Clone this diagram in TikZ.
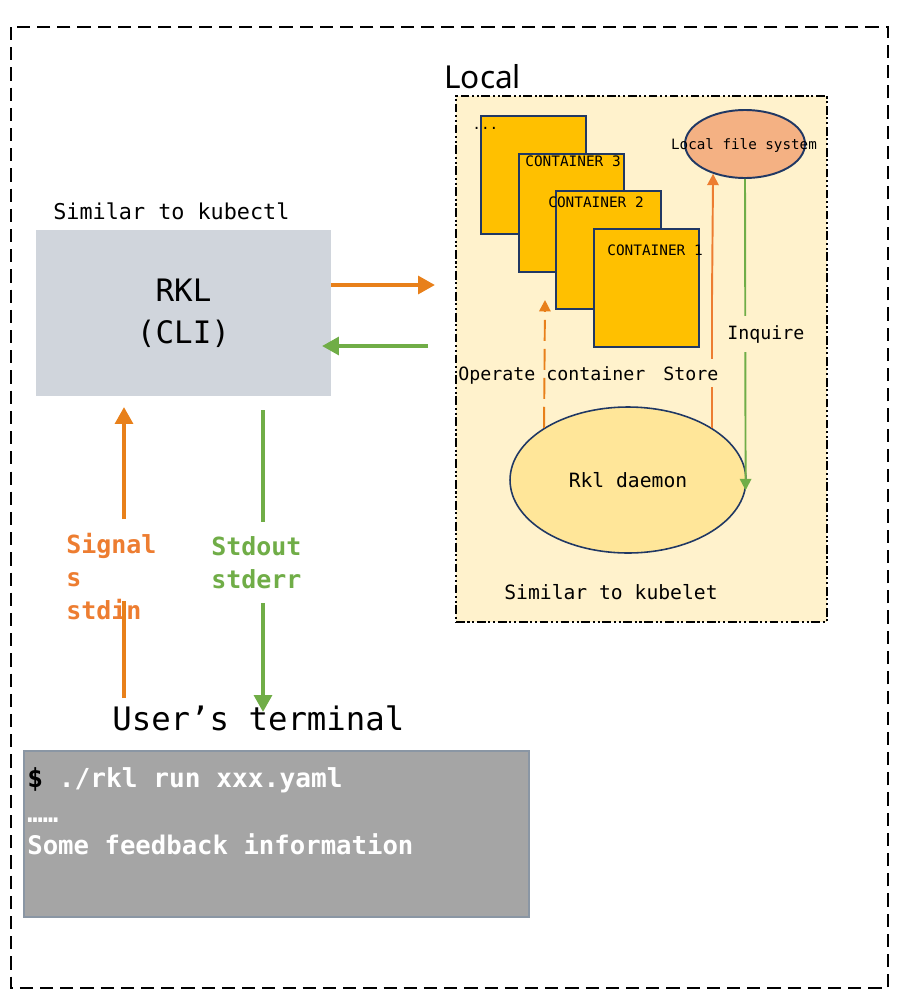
\documentclass[tikz,border=0pt]{standalone}
\usepackage{fontspec}
\setmonofont{DejaVu Sans Mono}
\newfontfamily\localfont{Noto Sans}
\usepackage{tikz}
\usetikzlibrary{arrows.meta, shapes.geometric}

\definecolor{rklorange}{HTML}{E8801A}
\definecolor{txtorange}{HTML}{ED7D31}
\definecolor{rklgreen}{HTML}{70AD47}
\definecolor{localbg}{HTML}{FFF2CC}
\definecolor{ctrfill}{HTML}{FFC000}
\definecolor{navy}{HTML}{203864}
\definecolor{fsfill}{HTML}{F4B183}
\definecolor{daemonfill}{HTML}{FFE699}
\definecolor{clifill}{HTML}{D0D5DC}
\definecolor{termfill}{HTML}{A5A5A5}
\definecolor{termedge}{HTML}{8A96A4}

\begin{document}
\begin{tikzpicture}[x=0.02cm, y=-0.02cm,
  mono/.style={font=\ttfamily\fontsize{#1}{#1}\selectfont, inner sep=0pt},
  monobold/.style={font=\ttfamily\bfseries\fontsize{#1}{18.7}\selectfont, inner sep=0pt},
  ctr/.style={rectangle, draw=navy, fill=ctrfill, line width=1.1pt, minimum width=2.1cm, minimum height=2.36cm},
  bigarrow/.style={line width=2.3pt, -{Triangle[length=9.6pt, width=10pt]}},
  smallarrow/.style={line width=1.1pt, -{Triangle[length=6.5pt, width=6.5pt]}}]
            \useasboundingbox (0,0) rectangle (910,1008);
            \draw[line width=1.1pt, dash pattern=on 7.5pt off 4pt] (11,27) rectangle (888,988);

            % local machine
            \node[rectangle, fill=localbg, draw=black, line width=1.1pt, dash pattern=on 5pt off 1.5pt on 1.2pt off 1.5pt on 1.2pt off 1.5pt, minimum width=7.42cm, minimum height=10.52cm] at (641.5,359) (local) {};
            \node[anchor=base west, inner sep=0pt, font=\localfont\fontsize{18}{18}\selectfont] at (444,88) (localtitle) {Local};

            \node[ctr] at (533.5,175) (ctrmore) {};
            \node[ctr] at (571.5,213) (ctr3) {};
            \node[ctr] at (608.5,250) (ctr2) {};
            \node[ctr] at (646.5,288) (ctr1) {};
            \node[mono=8.2, anchor=base west] at (472,129) (moretxt) {...};
            \node[mono=8.2, anchor=base west] at (525,166) (ctr3txt) {CONTAINER 3};
            \node[mono=8.2, anchor=base west] at (548,207) (ctr2txt) {CONTAINER 2};
            \node[mono=8.2, anchor=base west] at (607,255) (ctr1txt) {CONTAINER 1};

            \node[ellipse, draw=navy, fill=fsfill, line width=1.1pt, inner sep=0pt, minimum width=2.4cm, minimum height=1.36cm] at (745,144) (lfs) {};
            \node[mono=8.1, anchor=base] at (744,149) (lfstxt) {Local file system};

            \node[ellipse, draw=navy, fill=daemonfill, line width=0.9pt, inner sep=0pt, minimum width=4.72cm, minimum height=2.92cm] at (628,480) (daemon) {};
            \node[mono=11.2, anchor=base] at (628,487) (daemontxt) {Rkl daemon};
            \node[mono=11.2, anchor=base] at (611,599) (kubelet) {Similar to kubelet};

            \coordinate (optop) at (545,300);
            \draw[smallarrow, rklorange, dash pattern=on 12pt off 4.5pt] (daemon.north west) -- (optop);
            \draw[smallarrow, txtorange] (daemon.north east) -- ++(0,-128) -- (lfs.223);
            \draw[smallarrow, rklgreen] (lfs.south) -- (daemon.-5);
            \node[mono=10.4, anchor=base west] at (458,380) (operate) {Operate container};
            \node[mono=10.4, anchor=base west, fill=localbg, inner ysep=4pt] at (663,380) (store) {Store};
            \node[mono=10.4, anchor=base west, fill=localbg, inner ysep=5pt] at (727,339) (inquire) {Inquire};

            % cli
            \node[rectangle, fill=clifill, minimum width=5.9cm, minimum height=3.32cm, align=center, font=\ttfamily\fontsize{17.6}{23.8}\selectfont] at (183.5,313) (rkl) {RKL\\(CLI)};
            \node[mono=12.4, anchor=base west] at (53,219) (kubectl) {Similar to kubectl};

            \coordinate (req) at (435,285);
            \coordinate (resp) at (428,346);
            \draw[bigarrow, rklorange] (rkl.east |- req) -- (req);
            \draw[bigarrow, rklgreen, shorten >=-5.3pt] (resp) -- (rkl.east |- resp);

            % terminal
            \node[rectangle, fill=termfill, draw=termedge, line width=1.1pt, minimum width=10.1cm, minimum height=3.32cm] at (276.5,834) (term) {};
            \node[mono=18.4, anchor=base west] at (112,730) (termtitle) {User’s terminal};
            \node[monobold=14.9, anchor=base west] at (27,787) (cmd) {\$ \textcolor{white}{./rkl run xxx.yaml}};
            \node[monobold=14.6, anchor=base west, text=white] at (27,822) (dots) {……};
            \node[monobold=14.6, anchor=base west, text=white] at (27,854) (feedback) {Some feedback information};

            \node[monobold=14.2, anchor=north west, align=left, text=txtorange] at (66,533) (siglabel) {Signal\\s\\stdin};
            \node[monobold=14.2, anchor=north west, align=left, text=rklgreen] at (211,536) (stdlabel) {Stdout\\stderr};

            \coordinate (sig0) at (124,698);
            \coordinate (sig1) at (124,601);
            \coordinate (sig2) at (124,519);
            \coordinate (sig3) at (124,407);
            \draw[line width=2.3pt, rklorange] (sig0) -- (sig1);
            \draw[bigarrow, rklorange] (sig2) -- (sig3);

            \coordinate (std0) at (263,410);
            \coordinate (std1) at (263,522);
            \coordinate (std2) at (263,603);
            \coordinate (std3) at (263,712);
            \draw[line width=2.3pt, rklgreen] (std0) -- (std1);
            \draw[bigarrow, rklgreen] (std2) -- (std3);
        \end{tikzpicture}
\end{document}
